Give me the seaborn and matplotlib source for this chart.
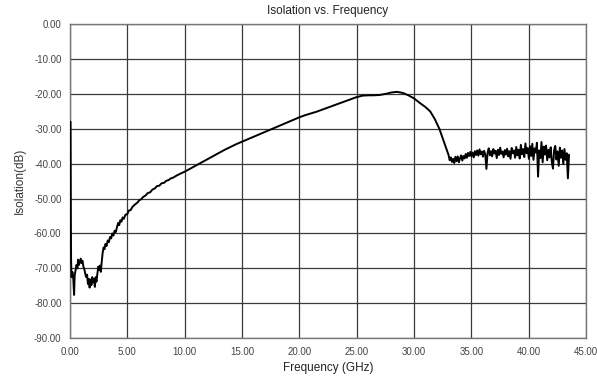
import pandas as pd
import seaborn as sns
import matplotlib.pyplot as plt

# sweep: frequency in GHz, isolation in dB
freq_low = [0.06, 0.07, 0.09, 0.11, 0.15, 0.22, 0.30, 0.37, 0.42, 0.50, 0.58, 0.66, 0.72, 0.80,
            0.88, 0.95, 1.02, 1.10, 1.18, 1.26, 1.34, 1.42, 1.50, 1.58, 1.66, 1.72, 1.80, 1.88,
            1.95, 2.02, 2.10, 2.18, 2.25, 2.32, 2.40, 2.48, 2.55, 2.62, 2.70, 2.78, 2.86, 2.94,
            3.02, 3.10, 3.20, 3.30, 3.40, 3.50, 3.60, 3.70, 3.80, 3.90, 4.00, 4.10, 4.20, 4.30,
            4.40, 4.50, 4.60, 4.70, 4.85, 5.00, 5.15, 5.30, 5.45, 5.60, 5.75, 5.90, 6.05, 6.20,
            6.40, 6.60, 6.80, 7.00, 7.20, 7.40, 7.60, 7.80, 8.00, 8.20, 8.40, 8.60, 8.80, 9.00,
            9.30, 9.60]
iso_low = [-28.0, -40.0, -58.0, -68.0, -72.5, -71.0, -73.0, -77.6, -72.0, -70.5, -69.0, -70.0,
           -67.5, -69.0, -68.0, -67.2, -68.5, -67.8, -69.5, -70.2, -71.5, -72.5, -71.8, -74.5,
           -73.0, -75.5, -73.2, -74.8, -72.5, -74.0, -73.0, -75.3, -72.5, -73.8, -71.5, -69.5,
           -70.5, -69.2, -71.0, -68.0, -65.5, -64.0, -64.5, -63.0, -63.6, -62.0, -62.5, -61.0,
           -61.4, -60.0, -60.6, -59.2, -59.6, -58.3, -57.0, -57.6, -56.2, -56.6, -55.4, -55.8,
           -54.6, -54.5, -53.4, -53.3, -52.4, -51.9, -51.5, -51.1, -50.5, -50.2, -49.5, -49.1,
           -48.4, -48.2, -47.4, -47.1, -46.4, -46.3, -45.6, -45.5, -44.9, -44.7, -44.2, -44.0,
           -43.4, -42.9]

freq_mid = [10.0, 10.5, 11.0, 11.5, 12.0, 12.5, 13.0, 13.5, 14.0, 14.5, 15.0, 15.5, 16.0, 16.5,
            17.0, 17.5, 18.0, 18.5, 19.0, 19.5, 20.0, 20.5, 21.0, 21.5, 22.0, 22.5, 23.0, 23.5,
            24.0, 24.5, 25.0, 25.5, 26.0, 26.5, 27.0, 27.5, 28.0, 28.5, 29.0, 29.5, 30.0, 30.5,
            31.0, 31.4, 31.8, 32.2, 32.5, 32.8, 33.0, 33.1, 33.2, 33.3]
iso_mid = [-42.3, -41.4, -40.5, -39.6, -38.7, -37.8, -36.9, -36.0, -35.2, -34.4, -33.7, -33.0,
           -32.3, -31.6, -30.9, -30.2, -29.5, -28.8, -28.1, -27.4, -26.7, -26.1, -25.6, -25.1,
           -24.5, -23.9, -23.3, -22.7, -22.1, -21.5, -20.9, -20.5, -20.4, -20.4, -20.3, -20.0,
           -19.6, -19.4, -19.7, -20.4, -21.3, -22.6, -23.8, -25.0, -27.2, -30.0, -32.8, -35.6,
           -37.5, -39.0, -38.2, -39.5]

freq_high = [33.4, 33.5, 33.6, 33.7, 33.8, 33.9, 34.0, 34.1, 34.2, 34.3, 34.4, 34.5, 34.6, 34.7,
             34.8, 34.9, 35.0, 35.1, 35.2, 35.3, 35.4, 35.5, 35.6, 35.7, 35.8, 35.9, 36.0, 36.1,
             36.2, 36.3, 36.4, 36.5, 36.6, 36.7, 36.8, 36.9, 37.0, 37.1, 37.2, 37.3, 37.4, 37.5,
             37.6, 37.7, 37.8, 37.9, 38.0, 38.1, 38.2, 38.3, 38.4, 38.5, 38.6, 38.7, 38.8, 38.9,
             39.0, 39.1, 39.2, 39.3, 39.4, 39.5, 39.6, 39.7, 39.8, 39.9, 40.0, 40.1, 40.2, 40.3,
             40.4, 40.5, 40.6, 40.7, 40.8, 40.9, 41.0, 41.1, 41.2, 41.3, 41.4, 41.5, 41.6, 41.7,
             41.8, 41.9, 42.0, 42.1, 42.2, 42.3, 42.4, 42.5, 42.6, 42.7, 42.8, 42.9, 43.0, 43.1,
             43.2, 43.3, 43.4, 43.5]
iso_high = [-38.6, -39.8, -38.0, -39.3, -37.9, -39.6, -38.4, -37.6, -39.1, -37.8, -38.5, -37.2,
            -38.3, -36.9, -37.8, -36.6, -37.9, -36.8, -38.2, -36.4, -37.5, -36.2, -37.7, -35.9,
            -37.3, -36.5, -38.0, -36.3, -37.4, -41.5, -36.9, -35.6, -37.6, -36.4, -37.9, -35.8,
            -37.1, -36.3, -38.4, -36.0, -37.5, -35.4, -37.2, -36.5, -38.2, -36.1, -37.4, -35.7,
            -37.9, -36.4, -38.6, -35.5, -37.0, -36.2, -38.3, -35.2, -37.6, -36.0, -38.5, -34.6,
            -37.3, -35.8, -38.1, -34.2, -37.0, -35.5, -38.6, -35.0, -37.8, -34.3, -38.9, -35.6,
            -36.8, -34.0, -43.7, -36.2, -38.4, -33.8, -39.6, -35.1, -37.4, -34.8, -39.0, -36.0,
            -38.2, -35.3, -39.5, -41.4, -36.1, -34.9, -38.8, -36.5, -40.6, -35.4, -38.3, -36.2,
            -40.1, -35.8, -38.9, -37.0, -44.2, -37.4]

x_ticks = [0, 5, 10, 15, 20, 25, 30, 35, 40, 45]
y_ticks = [0, -10, -20, -30, -40, -50, -60, -70, -80, -90]

df = pd.DataFrame({
    'freq': freq_low + freq_mid + freq_high,
    'iso': iso_low + iso_mid + iso_high,
})

sns.set_style('white')
plt.rcParams['font.family'] = ['Liberation Sans', 'DejaVu Sans']

fig = plt.figure(figsize=(5.97, 3.77), dpi=100)
ax = fig.add_axes([0.117, 0.103, 0.865, 0.833])

sns.lineplot(data=df, x='freq', y='iso', sort=False, estimator=None,
             color='black', linewidth=1.4, zorder=3, ax=ax)

ax.set_xlim(0, 45)
ax.set_ylim(-90, 0)
ax.set_xticks(x_ticks)
ax.set_yticks(y_ticks)
ax.set_xticklabels([f'{t:.2f}' for t in x_ticks])
ax.set_yticklabels([f'{t:.2f}' for t in y_ticks])
ax.tick_params(axis='both', labelsize=7, colors='#444444', length=0, pad=6)
ax.grid(True, color='#3a3a3a', linewidth=0.9)
for s in ax.spines.values():
    s.set_color('#777777')
    s.set_linewidth(1.0)

ax.set_title('Isolation vs. Frequency', fontsize=8.5, color='#222222', pad=7)
ax.set_xlabel('Frequency (GHz)', fontsize=8.5, color='#222222', labelpad=4)
ax.set_ylabel('Isolation(dB)', fontsize=8.5, color='#333333', labelpad=6)

fig.savefig('out.png', dpi=100)
